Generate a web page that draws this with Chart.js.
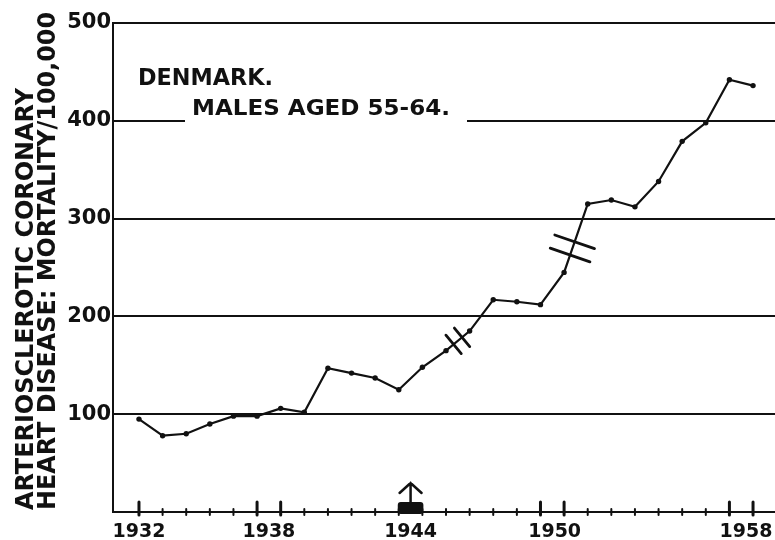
<!DOCTYPE html>
<html>
<head>
<meta charset="utf-8">
<script src="https://cdn.jsdelivr.net/npm/chart.js@4.4.1/dist/chart.umd.min.js"></script>
<style>
    html, body { margin: 0; padding: 0; background: #fff; }
    #wrap { width: 775px; height: 540px; position: relative; }
</style>
</head>
<body>
<div id="wrap"><canvas id="chart"></canvas></div>
<script>
var years = [1932, 1933, 1934, 1935, 1936, 1937, 1938, 1939, 1940, 1941, 1942, 1943, 1944, 1945,
             1946, 1947, 1948, 1949, 1950, 1951, 1952, 1953, 1954, 1955, 1956, 1957, 1958];
var mortality = [95, 78, 80, 90, 98, 98, 106, 102, 147, 142, 137, 125, 148, 165,
                 185, 217, 215, 212, 245, 315, 319, 312, 338, 379, 398, 442, 436];

var yTicks = [100, 200, 300, 400, 500];
var xTickLabels = ['1932', '1938', '1944', '1950', '1958'];
var xTickAt = [1932, 1937.5, 1943.5, 1949.6, 1957.7];
var tallTickYears = [1932, 1937, 1938, 1949, 1950, 1957, 1958];
var breakYears = [1945.5, 1950.35];
var markedYears = [1943, 1944];

var ink = '#111';
var font = "'DejaVu Sans', sans-serif";

function fitText(ctx, text, x, y, width, size, angle) {
    ctx.font = 'bold ' + size + 'px ' + font;
    var w = ctx.measureText(text).width;
    ctx.save();
    ctx.translate(x, y);
    if (angle) ctx.rotate(angle);
    ctx.scale(width / w, 1);
    ctx.fillText(text, 0, 0);
    ctx.restore();
}

// axis ticks, the 1944 marker, break marks and the texts
var extras = {
    id: 'extras',
    afterDraw: function (chart) {
        var ctx = chart.ctx;
        var xs = chart.scales.x, ys = chart.scales.y;
        var area = chart.chartArea;
        var axisY = area.bottom;

        ctx.save();
        ctx.strokeStyle = ink;
        ctx.fillStyle = ink;
        ctx.lineCap = 'round';

        // year ticks across the axis
        for (var yr = years[0]; yr <= years[years.length - 1]; yr++) {
            var px = xs.getPixelForValue(yr);
            var tall = tallTickYears.indexOf(yr) >= 0;
            ctx.lineWidth = tall ? 3 : 2;
            ctx.beginPath();
            ctx.moveTo(px, axisY - (tall ? 10 : 3));
            ctx.lineTo(px, axisY + 3);
            ctx.stroke();
        }

        // block and arrow over 1943-44
        var b0 = xs.getPixelForValue(markedYears[0]) - 1;
        var b1 = xs.getPixelForValue(markedYears[1]) + 1;
        ctx.beginPath();
        ctx.roundRect(b0, axisY - 10, b1 - b0, 12, 3);
        ctx.fill();
        var ax = (b0 + b1) / 2;
        ctx.lineWidth = 2.5;
        ctx.beginPath();
        ctx.moveTo(ax, axisY - 10);
        ctx.lineTo(ax, axisY - 29);
        ctx.moveTo(ax - 11, axisY - 19);
        ctx.lineTo(ax, axisY - 29);
        ctx.lineTo(ax + 11, axisY - 19);
        ctx.stroke();

        // break marks on the line
        var lens = [24, 42], gaps = [11, 14];
        breakYears.forEach(function (by, k) {
            var i = Math.floor(by) - years[0];
            var x1 = xs.getPixelForValue(years[i]), y1 = ys.getPixelForValue(mortality[i]);
            var x2 = xs.getPixelForValue(years[i + 1]), y2 = ys.getPixelForValue(mortality[i + 1]);
            var t = by - Math.floor(by);
            var cx = x1 + (x2 - x1) * t, cy = y1 + (y2 - y1) * t;
            var len = Math.hypot(x2 - x1, y2 - y1);
            var dx = (x2 - x1) / len, dy = (y2 - y1) / len;
            var nx = -dy, ny = dx;
            ctx.lineWidth = 2.8;
            [-1, 1].forEach(function (s) {
                var mx = cx + dx * s * gaps[k] / 2, my = cy + dy * s * gaps[k] / 2;
                ctx.beginPath();
                ctx.moveTo(mx - nx * lens[k] / 2, my - ny * lens[k] / 2);
                ctx.lineTo(mx + nx * lens[k] / 2, my + ny * lens[k] / 2);
                ctx.stroke();
            });
        });

        // labels inside the plot
        ctx.textBaseline = 'alphabetic';
        ctx.textAlign = 'left';
        fitText(ctx, 'DENMARK.', area.left + 25, area.top + 62, 135, 23);
        ctx.fillStyle = '#fff';
        ctx.fillRect(area.left + 72, area.top + 74, 282, 28);
        ctx.fillStyle = ink;
        fitText(ctx, 'MALES AGED 55-64.', area.left + 79, area.top + 92, 258, 21);

        // y axis title, two lines
        fitText(ctx, 'ARTERIOSCLEROTIC CORONARY', 33, 510, 422, 25, -Math.PI / 2);
        fitText(ctx, 'HEART DISEASE: MORTALITY/100,000', 55, 510, 498, 25, -Math.PI / 2);
        ctx.restore();
    }
};

var ctx = document.getElementById('chart').getContext('2d');
new Chart(ctx, {
    type: 'line',
    data: {
        datasets: [{
            data: years.map(function (y, i) { return { x: y, y: mortality[i] }; }),
            borderColor: ink,
            borderWidth: 2.2,
            pointRadius: 2.7,
            pointBackgroundColor: ink,
            pointBorderWidth: 0,
            tension: 0
        }]
    },
    options: {
        responsive: true,
        maintainAspectRatio: false,
        animation: false,
        events: [],
        layout: { autoPadding: false, padding: { top: 23, right: 0, bottom: 0, left: 0 } },
        plugins: { legend: { display: false }, tooltip: { enabled: false } },
        scales: {
            x: {
                type: 'linear',
                min: 1930.9,
                max: 1958.93,
                afterBuildTicks: function (s) { s.ticks = xTickAt.map(function (v) { return { value: v }; }); },
                afterFit: function (s) { s.height = 28; s.paddingLeft = 0; s.paddingRight = 0; },
                ticks: {
                    autoSkip: false,
                    maxRotation: 0,
                    padding: 1,
                    color: ink,
                    font: { family: font, size: 19, weight: 'bold' },
                    callback: function (v, i) { return xTickLabels[i]; }
                },
                grid: { display: false },
                border: { display: true, color: ink, width: 2 }
            },
            y: {
                min: 0,
                max: 500,
                afterBuildTicks: function (s) { s.ticks = yTicks.map(function (v) { return { value: v }; }); },
                afterFit: function (s) { s.width = 113; },
                ticks: {
                    padding: 2,
                    color: ink,
                    font: { family: font, size: 21, weight: 'bold' }
                },
                grid: { color: ink, lineWidth: 2, drawTicks: false },
                border: { display: true, color: ink, width: 2 }
            }
        }
    },
    plugins: [extras]
});
</script>
</body>
</html>
